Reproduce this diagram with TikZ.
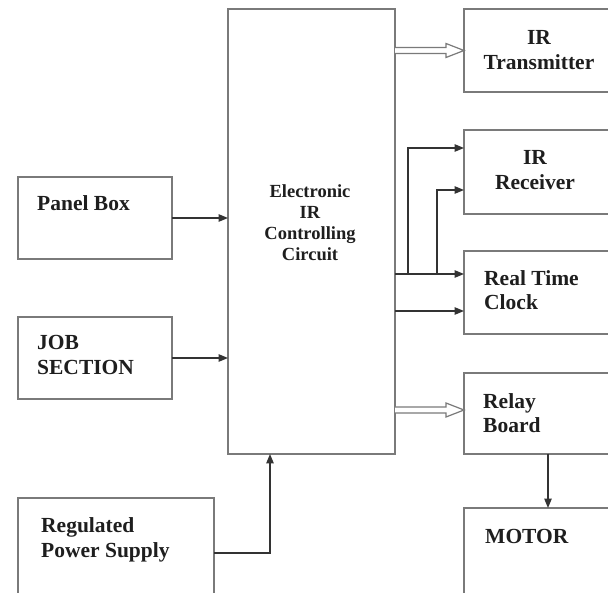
\documentclass[tikz,border=0pt]{standalone}
\usepackage{fontspec}
\setmainfont{Liberation Serif}
\usetikzlibrary{arrows.meta,calc}
\definecolor{boxgray}{HTML}{7A7A7A}
\definecolor{arrgray}{HTML}{333333}
\definecolor{txt}{HTML}{1E1E1E}
\newcommand\hollowarr[2]{%
  \draw[hollow] ($(#1)+(0,-3)$) -- ($(#2)+(-18,-3)$) -- ($(#2)+(-18,-7)$) -- (#2)
    -- ($(#2)+(-18,7)$) -- ($(#2)+(-18,3)$) -- ($(#1)+(0,3)$);}
\begin{document}
\begin{tikzpicture}[x=1pt,y=-1pt,
  box/.style={draw=boxgray,line width=1.4pt,anchor=north west,inner sep=0pt,outer sep=0pt},
  lbl/.style={font=\bfseries\fontsize{21.5}{24.5}\selectfont,text=txt,inner sep=0pt},
  clbl/.style={font=\bfseries\fontsize{18.5}{21}\selectfont,text=txt,inner sep=0pt,align=center},
  arr/.style={draw=arrgray,line width=1.2pt,-{Triangle[length=9.5pt,width=7.5pt]}},
  hollow/.style={draw=boxgray,line width=1.2pt,fill=white,line join=miter}]
\clip (0,0) rectangle (608,593);
\fill[white] (0,0) rectangle (608,593);
% boxes
\node[box,minimum width=167pt,minimum height=445pt] (ctrl) at (228,9) {};
\node[box,minimum width=160pt,minimum height=83pt] (tx) at (464,9) {};
\node[box,minimum width=160pt,minimum height=84pt] (rx) at (464,130) {};
\node[box,minimum width=160pt,minimum height=83pt] (rtc) at (464,251) {};
\node[box,minimum width=160pt,minimum height=81pt] (relay) at (464,373) {};
\node[box,minimum width=160pt,minimum height=100pt] (motor) at (464,508) {};
\node[box,minimum width=154pt,minimum height=82pt] (panel) at (18,177) {};
\node[box,minimum width=154pt,minimum height=82pt] (job) at (18,317) {};
\node[box,minimum width=196pt,minimum height=110pt] (rps) at (18,498) {};
% labels
\node[clbl] (tctrl) at (310,223) {Electronic\\IR\\Controlling\\Circuit};
\node[lbl,align=center] (ttx) at (539,50) {IR\\Transmitter};
\node[lbl,align=center] (trx) at (535,170) {IR\\Receiver};
\node[lbl,align=left,anchor=west] (trtc) at (484,290) {Real Time\\Clock};
\node[lbl,align=left,anchor=west] (trelay) at (483,413) {Relay\\Board};
\node[lbl,align=left,anchor=west] (tmotor) at (485,536) {MOTOR};
\node[lbl,align=left,anchor=west] (tpanel) at (37,203) {Panel Box};
\node[lbl,align=left,anchor=west] (tjob) at (37,355) {JOB\\SECTION};
\node[lbl,align=left,anchor=west] (trps) at (41,540) {Regulated\\Power Supply};
% inputs
\draw[arr] (panel.east) -- (panel.east -| ctrl.west);
\draw[arr] (job.east) -- (job.east -| ctrl.west);
\coordinate (pin) at ($(ctrl.south west)+(42,0)$);
\draw[arr] (rps.east) -| (pin);
% outputs
\coordinate (txs) at (ctrl.east |- tx.west);
\hollowarr{txs}{tx.west}
\coordinate (rls) at (ctrl.east |- 0,410);
\coordinate (rle) at (relay.west |- 0,410);
\hollowarr{rls}{rle}
\coordinate (o1) at (ctrl.east |- 0,274);
\coordinate (b1) at (408,274);
\coordinate (b2) at (437,274);
\draw[arr] (o1) -- (o1 -| rtc.west);
\draw[arr] (b1) |- (rx.west |- 0,148);
\draw[arr] (b2) |- (rx.west |- 0,190);
\coordinate (o2) at (ctrl.east |- 0,311);
\draw[arr] (o2) -- (o2 -| rtc.west);
\coordinate (m1) at (relay.south -| 548,0);
\draw[arr] (m1) -- (m1 |- motor.north);
\end{tikzpicture}
\end{document}
